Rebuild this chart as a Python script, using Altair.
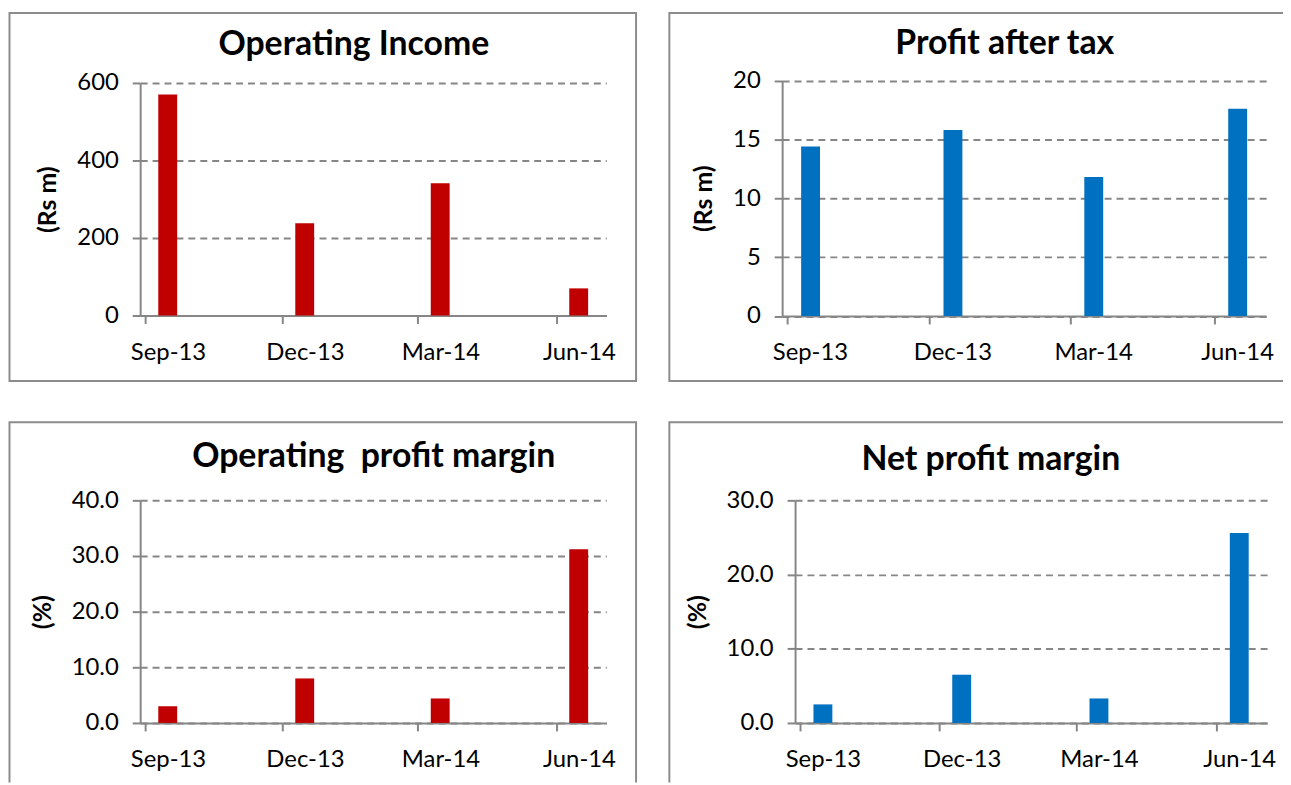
import altair as alt
import pandas as pd

# ---- data ----
quarters = ["2013-09-01", "2013-12-01", "2014-03-01", "2014-06-01"]
axis_end = "2014-07-01"
operating_income = [570, 238, 341, 70]
profit_after_tax = [14.4, 15.8, 11.8, 17.6]
operating_margin = [3.0, 8.0, 4.4, 31.2]
net_margin = [2.5, 6.5, 3.3, 25.6]

titles = ["Operating Income", "Profit after tax", "Operating\u00a0 profit margin", "Net profit margin"]
y_titles = ["(Rs m)", "(Rs m)", "(%)", "(%)"]
y_ticks = [[0, 200, 400, 600], [0, 5, 10, 15, 20], [0, 10, 20, 30, 40], [0, 10, 20, 30]]
y_formats = ["d", "d", ".1f", ".1f"]
series = [operating_income, profit_after_tax, operating_margin, net_margin]

# ---- layout / style ----
W, H = 1283, 777
RED, BLUE = "#C00000", "#0070C0"
GRAY = "#868686"
FONT = "Lato"

panels = [
    dict(color=RED, xr=[133, 602], yr=[307, 73], box=(1.5, 632, 2.5, 373), t=(348, 45)),
    dict(color=BLUE, xr=[779, 1266], yr=[307.5, 70.5], box=(665.5, 1320, 2.5, 373), t=(1003, 44)),
    dict(color=RED, xr=[133, 602], yr=[717, 493], box=(1.5, 632, 414.5, 820), t=(368, 459)),
    dict(color=BLUE, xr=[792, 1267], yr=[717, 493], box=(665.5, 1320, 414.5, 820), t=(989, 462)),
]


def dt(s):
    y, m, d = (int(v) for v in s.split("-"))
    return alt.DateTime(year=y, month=m, date=d, utc=True)


layers = []
for i, p in enumerate(panels):
    df = pd.DataFrame({"date": quarters, "value": series[i]})
    xs = alt.Scale(type="utc", domain=[dt(quarters[0]), dt(axis_end)], range=p["xr"], nice=False)
    ys = alt.Scale(domain=[y_ticks[i][0], y_ticks[i][-1]], range=p["yr"], nice=False, zero=True)
    bars = (
        alt.Chart(df)
        .transform_calculate(mid="utcOffset('day', toDate(datum.date), 15)")
        .mark_bar(size=19, color=p["color"])
        .encode(
            x=alt.X(
                "mid:T",
                scale=xs,
                axis=alt.Axis(
                    orient="bottom",
                    offset=p["yr"][0] - H,
                    values=[dt(q) for q in quarters],
                    labelExpr="utcFormat(datum.value, '%b-%y')",
                    labelOffset=23,
                    labelPadding=17,
                    labelFont=FONT,
                    labelFontSize=24,
                    labelColor="#000000",
                    tickSize=8,
                    tickColor=GRAY,
                    tickWidth=2,
                    domainColor=GRAY,
                    domainWidth=2,
                    grid=False,
                    title=None,
                    labelFlush=False,
                    labelOverlap=False,
                ),
            ),
            y=alt.Y(
                "value:Q",
                scale=ys,
                axis=alt.Axis(
                    orient="left",
                    offset=-p["xr"][0],
                    values=y_ticks[i],
                    format=y_formats[i],
                    labelFont=FONT,
                    labelFontSize=24,
                    labelColor="#000000",
                    labelPadding=14,
                    tickSize=8,
                    tickColor=GRAY,
                    tickWidth=2,
                    domainColor=GRAY,
                    domainWidth=2,
                    grid=True,
                    gridColor=GRAY,
                    gridDash=[7, 5],
                    gridWidth=2,
                    title=y_titles[i],
                    titleFont=FONT,
                    titleFontSize=25,
                    titleFontWeight="bold",
                    titleColor="#000000",
                    titlePadding=16,
                    labelFlush=False,
                ),
            ),
        )
    )
    bx = p["box"]
    box = (
        alt.Chart(pd.DataFrame({"k": [i]}))
        .mark_rect(filled=False, stroke="#8c8c8c", strokeWidth=2, clip=True)
        .encode(x=alt.value(bx[0]), x2=alt.value(bx[1]), y=alt.value(bx[2]), y2=alt.value(bx[3]))
    )
    title = (
        alt.Chart(pd.DataFrame({"t": [titles[i]]}))
        .mark_text(font=FONT, fontSize=34, fontWeight="bold", align="center", baseline="alphabetic", color="#000000")
        .encode(text="t:N", x=alt.value(p["t"][0]), y=alt.value(p["t"][1]))
    )
    layers += [box, bars, title]

chart = (
    alt.layer(*layers)
    .resolve_scale(x="independent", y="independent")
    .properties(width=W, height=H, padding=0, autosize=alt.AutoSizeParams(type="none"))
    .configure_view(stroke=None)
)

chart.save("out.html", embed_options={"renderer": "svg", "actions": False})
